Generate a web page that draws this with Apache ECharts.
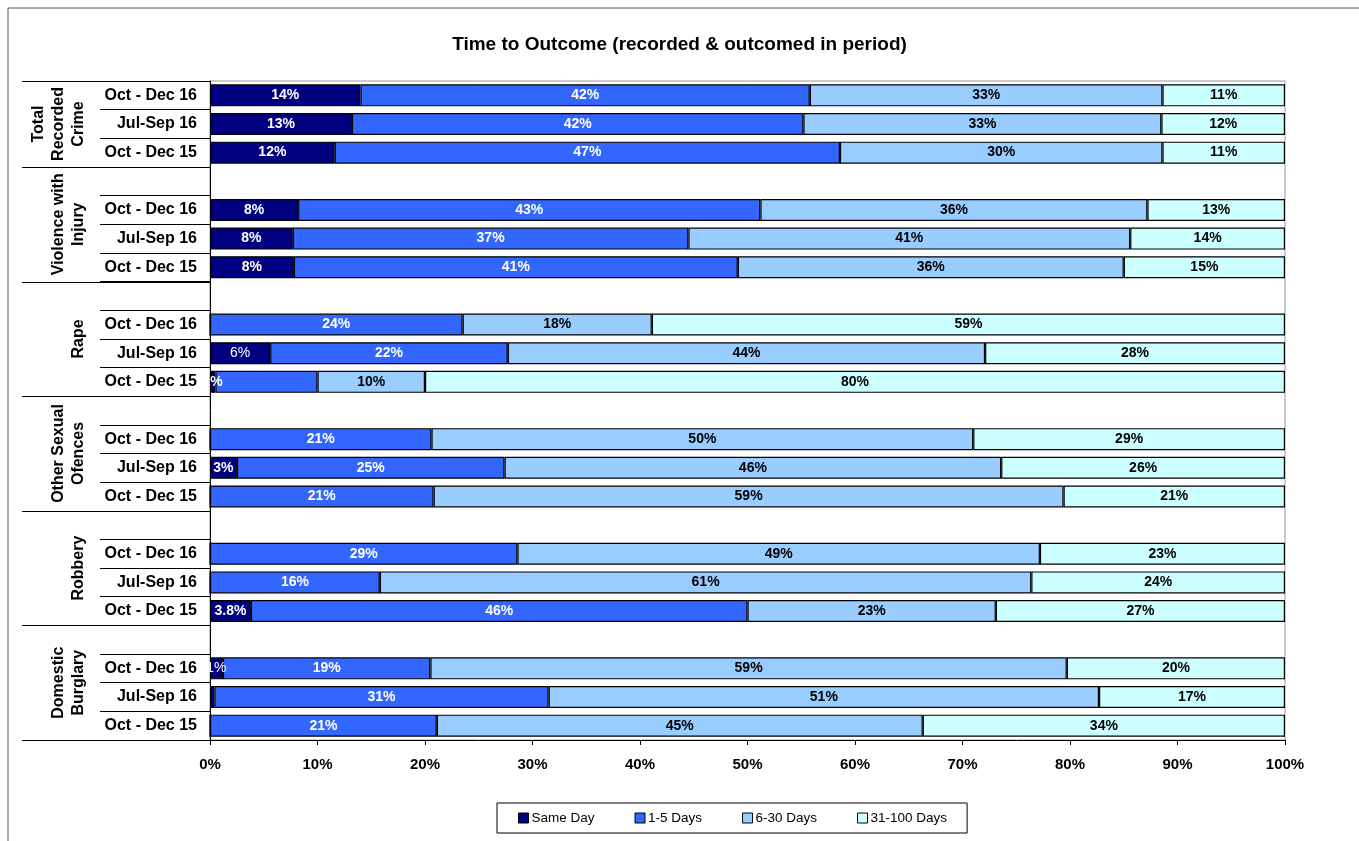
<!DOCTYPE html>
<html>
<head>
<meta charset="utf-8">
<title>Time to Outcome</title>
<script src="https://cdn.jsdelivr.net/npm/echarts@6/dist/echarts.min.js"></script>
<style>
  html, body { margin: 0; padding: 0; background: #fff; }
  #main { width: 1359px; height: 841px; }
</style>
</head>
<body>
<div id="main"></div>
<script>
// Crime groups and the three periods shown for each
const groups = [
  'Total\nRecorded\nCrime',
  'Violence with\nInjury',
  'Rape',
  'Other Sexual\nOfences',
  'Robbery',
  'Domestic\nBurglary'
];
const periods = ['Oct - Dec 16', 'Jul-Sep 16', 'Oct - Dec 15'];

// Share of outcomes (%) per row, three rows per group in the order of `periods`
const sameDay = [14.0, 13.2, 11.6, 8.2, 7.7, 7.8, 0, 5.6, 0.5, 0, 2.5, 0, 0, 0, 3.8, 1.2, 0.4, 0];
const oneToFive = [41.8, 42.0, 47.0, 43.0, 36.8, 41.3, 23.5, 22.1, 9.5, 20.6, 24.9, 20.8, 28.6, 15.8, 46.2, 19.3, 31.1, 21.1];
const sixToThirty = [32.8, 33.3, 30.0, 36.0, 41.1, 35.9, 17.6, 44.4, 10.0, 50.4, 46.2, 58.6, 48.6, 60.6, 23.1, 59.2, 51.2, 45.2];
const thirtyOneToHundred = [11.4, 11.5, 11.4, 12.8, 14.4, 15.0, 58.9, 27.9, 80.0, 29.0, 26.4, 20.6, 22.8, 23.6, 26.9, 20.3, 17.3, 33.7];

// Label details: decimals shown, plain-weight labels, labels left off
const oneDecimalRows = [14];          // Robbery, Oct - Dec 15 (same day)
const plainLabelSameDay = [7, 15];    // Rape Jul-Sep 16, Burglary Oct - Dec 16
const hiddenOneToFive = [8];          // Rape Oct - Dec 15

const seriesNames = ['Same Day', '1-5 Days', '6-30 Days', '31-100 Days'];
const seriesColors = ['#000080', '#3366FF', '#99CCFF', '#CCFFFF'];
const labelColors = ['#ffffff', '#ffffff', '#000000', '#000000'];
const xTicks = [0, 10, 20, 30, 40, 50, 60, 70, 80, 90, 100];

const FONT = '"Liberation Sans", Arial, sans-serif';

// Build the slot list: a blank slot separates each group after the first
const slotLabels = [];
const slotRow = [];   // row index into the value arrays, or -1 for spacer
const groupStart = [];
groups.forEach((g, gi) => {
  groupStart.push(slotLabels.length);
  if (gi > 0) { slotLabels.push(''); slotRow.push(-1); }
  periods.forEach((p, pi) => { slotLabels.push(p); slotRow.push(gi * 3 + pi); });
});
groupStart.push(slotLabels.length);

const valueSets = [sameDay, oneToFive, sixToThirty, thirtyOneToHundred];

function seriesData(si) {
  const vals = valueSets[si];
  return slotRow.map(r => {
    if (r < 0) return '-';
    const item = { value: vals[r], row: r };
    const lbl = {};
    if (si === 0 && plainLabelSameDay.includes(r)) lbl.fontWeight = 'normal';
    if (si === 1 && hiddenOneToFive.includes(r)) lbl.show = false;
    if (Object.keys(lbl).length) item.label = lbl;
    return item;
  });
}

const series = seriesNames.map((name, si) => ({
  name: name,
  type: 'bar',
  stack: 'total',
  barWidth: 22,
  data: seriesData(si),
  itemStyle: { color: seriesColors[si], borderColor: '#000', borderWidth: 1.2 },
  label: {
    show: true,
    position: 'inside',
    color: labelColors[si],
    fontFamily: FONT,
    fontSize: 14,
    fontWeight: 'bold',
    formatter: p => {
      const v = p.value;
      if (v === '-' || v < 0.5) return '';
      if (si === 0 && oneDecimalRows.includes(p.data.row)) return v.toFixed(1) + '%';
      return Math.round(v) + '%';
    }
  },
  emphasis: { disabled: true },
  animation: false
}));

const GRID = { left: 210, right: 74, top: 81, bottom: 101 };

const option = {
  backgroundColor: '#ffffff',
  animation: false,
  textStyle: { fontFamily: FONT },
  title: {
    text: 'Time to Outcome (recorded & outcomed in period)',
    left: 'center',
    top: 30,
    textStyle: { fontSize: 19, fontWeight: 'bold', color: '#000', fontFamily: FONT }
  },
  legend: {
    data: seriesNames,
    left: 497,
    top: 803,
    orient: 'horizontal',
    itemWidth: 10,
    itemHeight: 10,
    itemGap: 40,
    padding: [8, 20, 8, 21],
    borderColor: '#000',
    borderWidth: 1,
    icon: 'rect',
    itemStyle: { borderColor: '#000', borderWidth: 1 },
    textStyle: { fontSize: 13.5, color: '#000', padding: [0, 0, 0, -2], fontFamily: FONT },
    selectedMode: false
  },
  grid: {
    left: GRID.left, right: GRID.right, top: GRID.top, bottom: GRID.bottom,
    show: true, borderColor: '#999', borderWidth: 1, backgroundColor: 'transparent'
  },
  xAxis: {
    type: 'value',
    min: 0,
    max: 100,
    interval: 10,
    axisLine: { show: true, lineStyle: { color: '#000', width: 1 } },
    axisTick: { show: true, length: 5, lineStyle: { color: '#000' } },
    splitLine: { show: false },
    axisLabel: {
      formatter: v => v + '%',
      fontSize: 15,
      fontWeight: 'bold',
      color: '#000',
      margin: 17,
      fontFamily: FONT
    }
  },
  yAxis: {
    type: 'category',
    inverse: true,
    data: slotLabels,
    axisLine: { show: true, lineStyle: { color: '#000', width: 1 } },
    axisTick: { show: true, length: 110, lineStyle: { color: '#000', width: 1 } },
    axisLabel: {
      fontSize: 16,
      fontWeight: 'bold',
      color: '#000',
      margin: 13,
      fontFamily: FONT
    }
  },
  series: series
};

const chart = echarts.init(document.getElementById('main'), null, { renderer: 'canvas' });
chart.setOption(option);

// Group separators and rotated group names, placed from the category scale
const c0 = chart.convertToPixel({ yAxisIndex: 0 }, 0);
const c1 = chart.convertToPixel({ yAxisIndex: 0 }, 1);
const slot = c1 - c0;
const boundaryY = idx => c0 - slot / 2 + idx * slot;

const graphics = [];
graphics.push({
  type: 'rect',
  shape: { x: 8, y: 8, width: 1400, height: 900 },
  style: { fill: 'none', stroke: '#555', lineWidth: 1 },
  silent: true, z: 0
});
groupStart.forEach(idx => {
  const y = Math.round(boundaryY(idx)) + 0.5;
  graphics.push({
    type: 'line',
    shape: { x1: 22, y1: y, x2: GRID.left, y2: y },
    style: { stroke: '#000', lineWidth: 1 },
    silent: true, z: 10
  });
});
groups.forEach((g, gi) => {
  const yMid = (boundaryY(groupStart[gi]) + boundaryY(groupStart[gi + 1])) / 2;
  graphics.push({
    type: 'text',
    x: 89,
    y: yMid,
    rotation: Math.PI / 2,
    style: {
      text: g,
      fill: '#000',
      font: 'bold 16px ' + FONT,
      align: 'center',
      verticalAlign: 'bottom',
      lineHeight: 20
    },
    silent: true, z: 10
  });
});
chart.setOption({ graphic: graphics });
</script>
</body>
</html>
